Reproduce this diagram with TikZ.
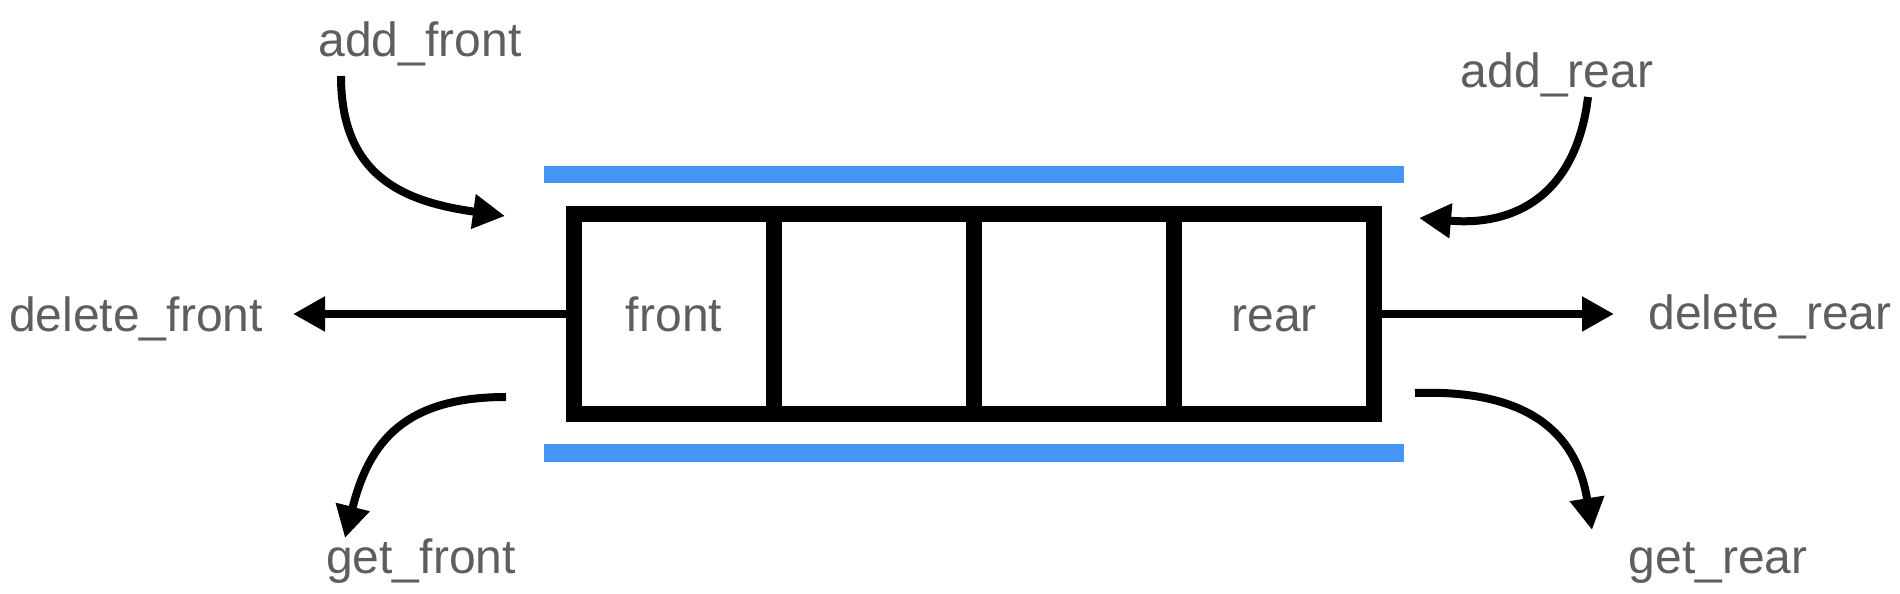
\documentclass[tikz,border=0pt]{standalone}
\usepackage{fontspec}
\setmainfont{Liberation Sans}
\usetikzlibrary{arrows.meta}
\definecolor{qblue}{RGB}{68,149,245}
\definecolor{labelgray}{RGB}{94,94,94}

\begin{document}
\begin{tikzpicture}[x=0.5pt, y=0.5pt,
    op/.style={text=labelgray, font=\fontsize{24}{28}\selectfont, anchor=base, inner sep=0pt},
    cell/.style={draw, line width=8pt, minimum width=100pt, minimum height=100pt, inner sep=0pt,
        text=labelgray, font=\fontsize{24}{28}\selectfont, text height=17.5pt, text depth=0pt},
    move/.style={line width=4pt, -{Triangle[length=16pt, width=16.5pt]}}]
    \useasboundingbox (0,0) rectangle (1900,594);
    \fill[qblue] (544,411) rectangle (1404,428);
    \fill[qblue] (544,132) rectangle (1404,150);
    \foreach \i/\t in {1/front,2/,3/,4/rear}
        \node[cell] (c\i) at (474+200*\i,280) {\t};
    \node[op] (addfront) at (420,537) {add\_front};
    \node[op] (addrear) at (1557,506) {add\_rear};
    \node[op] (delfront) at (136,262) {delete\_front};
    \node[op] (delrear) at (1770,264) {delete\_rear};
    \node[op] (getfront) at (421,20) {get\_front};
    \node[op] (getrear) at (1718,20) {get\_rear};
    \coordinate (af1) at (341,518);
    \coordinate (af2) at (505,378);
    \coordinate (ar1) at (1588,497);
    \coordinate (ar2) at (1419,376);
    \coordinate (gf1) at (506,197);
    \coordinate (gf2) at (345,56);
    \coordinate (gr1) at (1415,201);
    \coordinate (gr2) at (1592,64);
    \coordinate (df) at (293,280);
    \coordinate (dr) at (1614,280);
    \draw[move] (af1) to[out=-90, in=172, looseness=1.2] (af2);
    \draw[move] (ar1) to[out=-97, in=-5, looseness=1.2] (ar2);
    \draw[move] (gf1) to[out=180, in=76, looseness=1.2] (gf2);
    \draw[move] (gr1) to[out=2, in=99, looseness=1.2] (gr2);
    \draw[move] (c1.west) -- (df);
    \draw[move] (c4.east) -- (dr);
\end{tikzpicture}
\end{document}
